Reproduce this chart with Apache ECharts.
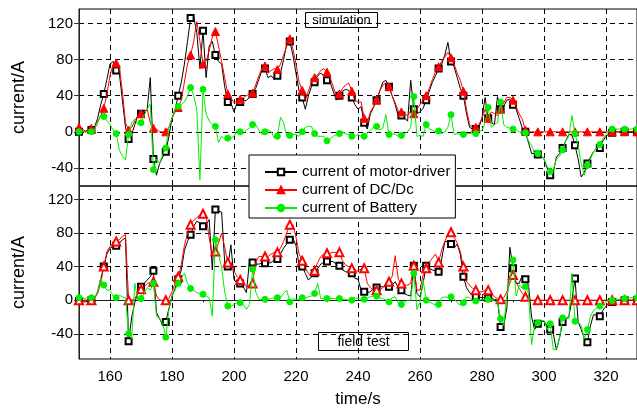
<!DOCTYPE html>
<html>
<head>
<meta charset="utf-8">
<script src="https://cdn.jsdelivr.net/npm/echarts@6/dist/echarts.min.js"></script>
<style>html,body{margin:0;padding:0;background:#fff;}#c{width:637px;height:409px;}</style>
</head>
<body>
<div id="c"></div>
<script>
// ---------------- data (sampled every 1 s from 150 s to 330 s) ----------------
const T_START = 150;
const T_STEP = 1;
const MARK_EVERY = 4;

const xTicks = [160, 180, 200, 220, 240, 260, 280, 300, 320];
const xMinorTicks = [170, 190, 210, 230, 250, 270, 290, 310, 330];
const yTicks = [-40, 0, 40, 80, 120];
const yMinorTopTicks = [-20, 20, 60, 100];
const yMinorBotTicks = [-60, -20, 20, 60, 100];

const seriesNames = ['current of motor-driver', 'current of DC/Dc', 'current of Battery'];

// simulation (top panel)
const simMotor = [
  0,0,0,1,2,5,15,30,42,58,
  75,78,68,65,35,5,-8,-3,8,18,
  20,22,25,60,-30,-48,-35,-28,-22,-5,
  15,25,40,55,75,100,126,127,110,70,
  112,60,95,100,85,78,75,50,33,32,
  22,32,33,34,35,38,42,48,58,68,
  70,60,62,58,62,65,80,97,100,85,
  65,45,38,25,40,50,55,62,65,62,
  57,55,45,35,40,45,47,46,38,30,
  25,28,10,3,20,27,35,45,55,57,
  50,40,30,17,18,15,12,57,25,20,
  22,26,35,45,55,62,70,75,85,99,
  78,72,60,48,40,20,5,3,3,5,
  15,38,15,10,8,39,25,28,35,36,
  30,25,15,4,0,-12,-24,-24,-25,-26,
  -30,-40,-48,-45,-28,-24,-18,-10,-3,-3,
  -15,-30,-50,-45,-35,-28,-22,-18,-18,-10,
  -5,-2,-1,0,0,0,0,0,0,0,
  0
];
const simDcdc = [
  5,3,1,2,4,3,10,18,26,42,
  62,75,76,72,45,10,2,5,12,18,
  20,22,25,10,4,3,0,0,0,5,
  15,22,27,35,55,75,85,100,122,100,
  75,78,90,105,111,95,78,60,42,38,
  32,34,36,38,40,42,43,52,62,70,
  73,65,68,70,69,75,85,95,103,92,
  75,55,46,35,45,55,60,63,68,70,
  66,60,50,40,42,48,52,54,45,35,
  33,33,15,10,22,28,35,45,52,54,
  50,40,32,23,22,20,18,22,20,25,
  30,35,40,48,58,66,72,78,83,88,
  82,75,65,57,45,25,8,5,5,8,
  15,25,15,22,20,18,25,32,38,38,
  35,28,20,14,2,0,0,0,0,0,
  0,0,0,0,0,0,0,0,0,0,
  0,0,0,0,0,0,0,0,0,0,
  0,0,0,0,0,0,0,0,0,0,
  0
];
const simBattery = [
  0,0,0,0,0,3,12,18,17,12,
  8,2,-2,-20,-27,-31,-3,10,14,8,
  10,18,25,31,-42,-30,-35,-25,-18,5,
  15,25,28,30,33,40,49,40,25,-53,
  47,20,12,8,6,-12,-5,-8,-7,-7,
  -5,2,0,-2,2,4,8,8,2,-3,
  0,2,0,-7,-5,16,10,-5,-4,-3,
  -3,-5,0,5,6,6,-2,-5,-5,-5,
  -10,-8,-5,-3,-2,0,-2,-3,-5,-5,
  -3,-5,-5,-2,2,5,6,2,4,19,
  -3,-2,-3,-5,-4,-2,0,5,39,-5,
  -4,-5,8,3,2,0,1,-2,0,5,
  19,-3,-2,-3,-3,-2,-2,-2,-2,0,
  2,10,27,5,8,10,33,8,5,4,
  3,2,0,-1,-1,-10,-15,-24,-24,-26,
  -30,-38,-44,-42,-30,-27,-20,-10,-5,18,
  -2,-15,-35,-48,-37,-30,-22,-18,-14,-8,
  -3,1,3,3,3,3,3,3,3,3,
  3
];

// field test (bottom panel)
const fieldMotor = [
  -1,-2,-2,-1,0,2,10,25,40,55,
  62,64,65,68,72,74,-49,-20,-3,10,
  16,20,24,28,35,-15,-22,-30,-26,-10,
  5,14,25,36,59,70,78,88,94,92,
  88,90,96,36,108,106,105,45,40,66,
  25,20,20,16,9,47,45,43,43,44,
  44,44,45,48,49,55,62,67,72,74,
  65,41,40,32,24,28,32,38,43,45,
  46,46,46,43,41,36,34,33,32,26,
  25,12,10,9,10,14,15,16,16,16,
  16,18,22,15,12,8,6,5,41,8,
  4,20,41,38,36,35,34,49,70,70,
  67,62,67,55,28,15,9,6,5,4,
  3,3,3,2,1,0,-32,-30,-10,63,
  38,20,20,30,25,18,-20,-35,-28,-26,
  -25,-30,-35,-40,-59,-45,-26,-22,-20,0,
  26,-25,-35,-45,-50,-30,-17,-18,-19,-12,
  -7,-4,-2,-1,0,0,0,0,0,0,
  0
];
const fieldDcdc = [
  0,0,0,0,0,2,8,20,40,58,
  64,68,70,72,76,78,0,0,2,8,
  13,16,20,21,22,5,0,0,0,2,
  10,20,28,42,65,80,90,95,98,102,
  103,101,74,55,58,68,80,63,45,42,
  35,28,24,20,16,18,20,45,52,52,
  52,52,55,57,57,62,70,80,90,90,
  75,55,47,38,32,29,35,45,52,55,
  56,56,57,57,57,47,42,40,38,34,
  35,37,38,20,15,12,12,12,15,20,
  22,28,53,25,20,18,18,20,41,12,
  12,30,38,45,50,55,45,60,70,78,
  81,75,68,58,40,22,18,14,12,10,
  10,12,12,8,4,2,1,3,10,20,
  30,22,14,8,4,2,0,0,0,0,
  0,0,0,0,0,0,0,0,0,0,
  0,0,0,0,0,0,0,0,0,0,
  0,0,0,0,0,0,0,0,0,0,
  0
];
const fieldBattery = [
  3,3,2,3,3,2,10,26,18,12,
  12,5,3,6,4,3,-40,-46,20,0,
  2,8,15,12,20,-19,-22,-28,-44,-11,
  5,12,20,26,32,20,14,12,9,8,
  7,5,3,-19,72,55,39,10,-7,-8,
  -5,-3,-3,-5,-11,-5,37,10,1,1,
  1,1,2,3,3,3,8,12,-2,2,
  1,1,3,3,4,5,8,20,2,2,
  2,2,2,2,2,1,1,0,0,3,
  2,1,1,3,4,5,5,3,2,0,
  -2,3,4,-3,-5,-2,0,0,32,-11,
  -2,24,0,-2,-4,-6,-5,3,4,3,
  4,2,-3,-6,-3,4,3,-1,-1,0,
  1,1,1,0,-1,-3,-22,-30,5,24,
  48,5,18,14,16,8,-53,-30,-27,-25,
  -24,-35,-28,-59,-58,-45,-21,-22,-22,32,
  -25,-26,-30,-46,-35,-19,-12,-9,-7,-5,
  -2,0,0,1,1,2,2,3,3,3,
  3
];

// ---------------- chart ----------------
const FONT = '"Liberation Sans", Arial, Helvetica, sans-serif';
const time = simMotor.map((_, i) => T_START + i * T_STEP);

function build(vals, sym) {
  return vals.map((v, i) => ({ value: [time[i], v], symbol: (i % MARK_EVERY === 0) ? sym : 'none' }));
}

const gridLine = { show: true, lineStyle: { color: '#000', width: 1, type: [5, 4] } };
const axisLineStyle = { color: '#222', width: 1 };

function lineSeries(name, vals, sym, color, size, xi, yi, z) {
  return {
    name: name, type: 'line', xAxisIndex: xi, yAxisIndex: yi,
    data: build(vals, sym), symbol: sym, symbolSize: size,
    showSymbol: true, showAllSymbol: true, animation: false,
    lineStyle: { color: color, width: 1 },
    itemStyle: { color: color, borderColor: color, borderWidth: 1 },
    emphasis: { disabled: true }, z: z
  };
}

const chart = echarts.init(document.getElementById('c'), null, { renderer: 'canvas' });
chart.setOption({
  animation: false,
  backgroundColor: '#fff',
  textStyle: { fontFamily: FONT },
  grid: [
    { left: 79, top: 9, width: 562, height: 177, show: true, borderColor: '#000', borderWidth: 1, backgroundColor: 'transparent' },
    { left: 79, top: 186, width: 562, height: 177, show: true, borderColor: '#000', borderWidth: 1, backgroundColor: 'transparent' }
  ],
  xAxis: [
    { type: 'value', gridIndex: 0, min: 150, max: 330,
      axisLine: { show: false }, axisTick: { show: false, customValues: xTicks },
      axisLabel: { show: false, customValues: xTicks }, splitLine: gridLine },
    { type: 'value', gridIndex: 1, min: 150, max: 330, name: 'time/s', nameLocation: 'middle', nameGap: 32,
      nameTextStyle: { fontSize: 17, color: '#000', fontFamily: FONT },
      axisLine: { show: true, lineStyle: axisLineStyle },
      axisTick: { show: true, inside: true, length: 5, customValues: xTicks, lineStyle: { color: '#000' } },
      axisLabel: { show: true, customValues: xTicks, fontSize: 15, color: '#000', margin: 10, fontFamily: FONT },
      splitLine: gridLine },
    { type: 'value', gridIndex: 1, min: 150, max: 330,
      axisLine: { show: false },
      axisTick: { show: true, inside: true, length: 2, customValues: xMinorTicks, lineStyle: { color: '#000' } },
      axisLabel: { show: false, customValues: xMinorTicks }, splitLine: { show: false } }
  ],
  yAxis: [
    { type: 'value', gridIndex: 0, min: -60, max: 136, name: 'current/A', nameLocation: 'middle', nameGap: 51,
      nameTextStyle: { fontSize: 18, color: '#000', fontFamily: FONT },
      axisLine: { show: true, lineStyle: axisLineStyle },
      axisTick: { show: true, length: 5, customValues: yTicks, lineStyle: { color: '#333' } },
      axisLabel: { show: true, customValues: yTicks, fontSize: 15, color: '#000', margin: 6, fontFamily: FONT },
      splitLine: gridLine },
    { type: 'value', gridIndex: 0, min: -60, max: 136,
      axisLine: { show: false },
      axisTick: { show: true, length: 3, customValues: yMinorTopTicks, lineStyle: { color: '#333' } },
      axisLabel: { show: false, customValues: yMinorTopTicks }, splitLine: { show: false } },
    { type: 'value', gridIndex: 1, min: -70, max: 136, name: 'current/A', nameLocation: 'middle', nameGap: 51,
      nameTextStyle: { fontSize: 18, color: '#000', fontFamily: FONT },
      axisLine: { show: true, lineStyle: axisLineStyle },
      axisTick: { show: true, length: 5, customValues: yTicks, lineStyle: { color: '#333' } },
      axisLabel: { show: true, customValues: yTicks, fontSize: 15, color: '#000', margin: 6, fontFamily: FONT },
      splitLine: gridLine },
    { type: 'value', gridIndex: 1, min: -70, max: 136,
      axisLine: { show: false },
      axisTick: { show: true, length: 3, customValues: yMinorBotTicks, lineStyle: { color: '#333' } },
      axisLabel: { show: false, customValues: yMinorBotTicks }, splitLine: { show: false } }
  ],
  legend: {
    show: true, orient: 'vertical', left: 249, top: 155,
    data: seriesNames,
    backgroundColor: '#fff', borderColor: '#000', borderWidth: 1,
    padding: [9, 5, 2, 15], itemWidth: 32, itemHeight: 8, itemGap: 2,
    textStyle: { fontSize: 15, color: '#000', fontFamily: FONT, lineHeight: 16 },
    z: 10
  },
  graphic: [
    { type: 'group', left: 305, top: 12, z: 20, children: [
      { type: 'rect', shape: { x: 0, y: 0, width: 72, height: 15 }, style: { fill: '#fff', stroke: '#000', lineWidth: 1 } },
      { type: 'text', x: 36, y: 8, style: { text: 'simulation', fontSize: 13, fontFamily: FONT, fill: '#000', align: 'center', verticalAlign: 'middle' } }
    ] },
    { type: 'group', left: 318, top: 332, z: 20, children: [
      { type: 'rect', shape: { x: 0, y: 0, width: 90, height: 18 }, style: { fill: '#fff', stroke: '#000', lineWidth: 1 } },
      { type: 'text', x: 45, y: 9.5, style: { text: 'field test', fontSize: 14, fontFamily: FONT, fill: '#000', align: 'center', verticalAlign: 'middle' } }
    ] }
  ],
  series: [
    lineSeries(seriesNames[0], simMotor, 'emptyRect', '#000', 6, 0, 0, 3),
    lineSeries(seriesNames[1], simDcdc, 'triangle', '#ff0000', 8, 0, 0, 4),
    lineSeries(seriesNames[2], simBattery, 'circle', '#00ee00', 6, 0, 0, 5),
    lineSeries(seriesNames[0], fieldMotor, 'emptyRect', '#000', 6, 1, 2, 3),
    lineSeries(seriesNames[1], fieldDcdc, 'emptyTriangle', '#ff0000', 8, 1, 2, 4),
    lineSeries(seriesNames[2], fieldBattery, 'circle', '#00ee00', 6, 1, 2, 5)
  ]
});
</script>
</body>
</html>
